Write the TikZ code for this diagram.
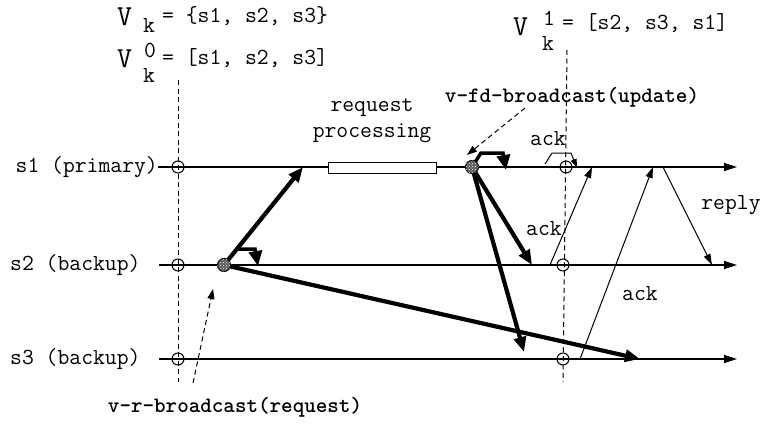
\documentclass[tikz,border=0pt]{standalone}
\usepackage{fontspec}
\usetikzlibrary{arrows.meta,patterns}
\tikzset{
  txt/.style={inner sep=0pt, font=\ttfamily\fontsize{23}{27}\selectfont},
  btxt/.style={inner sep=0pt, font=\ttfamily\bfseries\fontsize{22}{26}\selectfont},
  bigv/.style={inner sep=0pt, font=\ttfamily\fontsize{29}{32}\selectfont},
  tline/.style={line width=1.3pt, -{Triangle[length=13pt,width=8pt]}},
  thin/.style={line width=1pt, -{Triangle[length=11pt,width=7pt]}},
  fat/.style={line width=4.2pt, -{Triangle[length=15pt,width=12pt]}},
  vdash/.style={line width=1pt, dash pattern=on 5pt off 3.5pt},
  dasharrow/.style={line width=1pt, dash pattern=on 5pt off 3.5pt, -{Triangle[length=10pt,width=7pt]}},
  ring/.style={circle, draw, line width=1pt, minimum size=12pt, inner sep=0pt, fill=none},
  hdot/.style={circle, draw, line width=1pt, minimum size=13pt, inner sep=0pt, fill=black!65,
     postaction={pattern=crosshatch dots, pattern color=white}},
}
\begin{document}
\begin{tikzpicture}[x=1pt,y=-1pt]
\useasboundingbox (0,0) rectangle (763,423);
\fill[white] (0,0) rectangle (763,423);

% view texts
\node[bigv, anchor=base west] (v0) at (117,25) {V};
\node[txt, anchor=base west] (k0) at (143,32) {k};
\node[txt, anchor=base west] (t0) at (162,22) {= \{s1, s2, s3\}};

\node[bigv, anchor=base west] (v1) at (117,67) {V};
\node[txt, anchor=base west] (p1) at (144,57) {0};
\node[txt, anchor=base west] (k1) at (143,82) {k};
\node[txt, anchor=base west] (t1) at (162,64) {= [s1, s2, s3]};

\node[bigv, anchor=base west] (v2) at (513,35) {V};
\node[txt, anchor=base west] (p2) at (543,25) {1};
\node[txt, anchor=base west] (k2) at (542,50) {k};
\node[txt, anchor=base west] (t2) at (562,29) {= [s2, s3, s1]};

% process labels
\node[txt, anchor=east] (s1) at (158,167) {s1 (primary)};
\node[txt, anchor=west] (s2) at (10,265) {s2 (backup)};
\node[txt, anchor=west] (s3) at (10,359) {s3 (backup)};

\coordinate (a1) at (158,167); \coordinate (b1) at (737,167);
\coordinate (a2) at (159,265); \coordinate (b2) at (737,265);
\coordinate (a3) at (159,359); \coordinate (b3) at (737,359);

% dashed view lines
\coordinate (vt0) at (178,80);  \coordinate (vb0) at (178,382);
\coordinate (vt1) at (567,50);  \coordinate (vb1) at (563,382);
\draw[vdash] (vt0) -- (vb0);
\draw[vdash] (vt1) -- (vb1);

% timelines
\draw[tline] (a1) -- (b1);
\draw[tline] (a2) -- (b2);
\draw[tline] (a3) -- (b3);

% request processing box
\node[txt] (rq) at (372,108) {request};
\node[txt] (pr) at (372,133) {processing};
\draw[line width=1pt, fill=white] (328,162) rectangle (436,173);

% rings
\node[ring] (c10) at (178,167) {};
\node[ring] (c20) at (178,265) {};
\node[ring] (c30) at (178,359) {};
\node[ring] (c11) at (566,167) {};
\node[ring] (c21) at (563,265) {};
\node[ring] (c31) at (563,359) {};

% event coordinates
\coordinate (d2) at (224,265);
\coordinate (d1) at (472,167);
\coordinate (r1) at (303,167);
\coordinate (r3) at (640,359);
\coordinate (u2) at (532,265);
\coordinate (u3) at (524,352);

% thick arrows
\draw[fat] (d2) -- (r1);
\draw[fat] (d2) -- (r3);
\draw[fat] (d1) -- (u2);
\draw[fat] (d1) -- (u3);

% hooks
\coordinate (h2a) at (237,249); \coordinate (h2b) at (255,249); \coordinate (h2c) at (258,266);
\draw[line width=3.5pt, -{Triangle[length=15pt,width=13pt]}] (h2a) -- (h2b) -- (h2c);
\coordinate (h1b) at (481,153); \coordinate (h1c) at (503,153); \coordinate (h1d) at (506,170);
\draw[line width=3.5pt, -{Triangle[length=15pt,width=13pt]}] (d1) -- (h1b) -- (h1c) -- (h1d);
\coordinate (g1a) at (545,164); \coordinate (g1b) at (552,153); \coordinate (g1c) at (571,153); \coordinate (g1d) at (577,168);
\draw[line width=1pt, -{Triangle[length=9pt,width=6pt]}] (g1a) -- (g1b) -- (g1c) -- (g1d);

% hatched dots
\node[hdot] (e2) at (d2) {};
\node[hdot] (e1) at (d1) {};

% thin arrows
\coordinate (k1s) at (550,265); \coordinate (k1e) at (592,167);
\coordinate (k2s) at (580,359); \coordinate (k2e) at (653,167);
\coordinate (rps) at (663,167); \coordinate (rpe) at (712,265);
\draw[thin] (k1s) -- (k1e);
\draw[thin] (k2s) -- (k2e);
\draw[thin] (rps) -- (rpe);

\node[txt] (ackA) at (548,139) {ack};
\node[txt] (ackB) at (544,229) {ack};
\node[txt] (ackC) at (640,294) {ack};
\node[txt] (rep) at (731,205) {reply};

% broadcast labels
\node[btxt] (fd) at (572,97) {v-fd-broadcast(update)};
\node[btxt] (rb) at (235,407) {v-r-broadcast(request)};
\coordinate (fds) at (525,108); \coordinate (fde) at (467,155);
\coordinate (rbs) at (193,383); \coordinate (rbe) at (213,289);
\draw[dasharrow] (fds) -- (fde);
\draw[dasharrow] (rbs) -- (rbe);
\end{tikzpicture}
\end{document}
